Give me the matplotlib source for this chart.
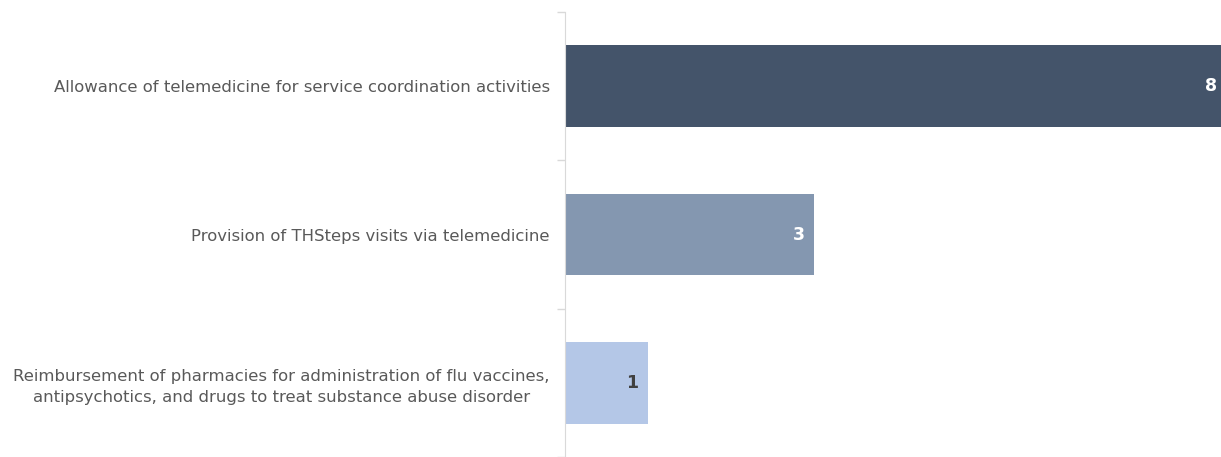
import matplotlib.pyplot as plt
import numpy as np

categories = [
    "Allowance of telemedicine for service coordination activities",
    "Provision of THSteps visits via telemedicine",
    "Reimbursement of pharmacies for administration of flu vaccines,\nantipsychotics, and drugs to treat substance abuse disorder",
]
counts = [8, 3, 1]
bar_colors = ["#44546A", "#8497B0", "#B4C7E7"]
label_colors = ["white", "white", "#404040"]

plt.rcParams['font.family'] = ['DejaVu Sans']

fig = plt.figure(figsize=(12.21, 4.57), dpi=100)
ax = fig.add_axes([565 / 1221, 0.0, 656 / 1221, 445 / 457])

y = np.arange(len(categories))
ax.barh(y, counts, height=0.55, color=bar_colors, clip_on=True)
# the longest bar runs slightly past the right edge
ax.set_xlim(0, 7.9)
ax.set_ylim(len(categories) - 0.5, -0.5)

# value labels just inside the end of each bar
for yi, v, c in zip(y, counts, label_colors):
    ax.annotate(str(v), xy=(min(v, 7.97), yi), xytext=(-7, 0),
                textcoords="offset points", ha="right", va="center",
                color=c, fontsize=12.5, fontweight="bold",
                annotation_clip=False)

ax.set_yticks(y)
ax.set_yticklabels(categories, fontsize=11.85, color="#595959", ha="right",
                   multialignment="center", linespacing=1.45)
ax.tick_params(axis="y", which="major", length=0, pad=11)
ax.set_yticks(np.arange(-0.5, len(categories)), minor=True)
ax.tick_params(axis="y", which="minor", length=6, color="#D9D9D9", width=1)

ax.set_xticks([])
for side in ["top", "right", "bottom"]:
    ax.spines[side].set_visible(False)
ax.spines["left"].set_color("#D9D9D9")

fig.savefig("out.png", dpi=100)
